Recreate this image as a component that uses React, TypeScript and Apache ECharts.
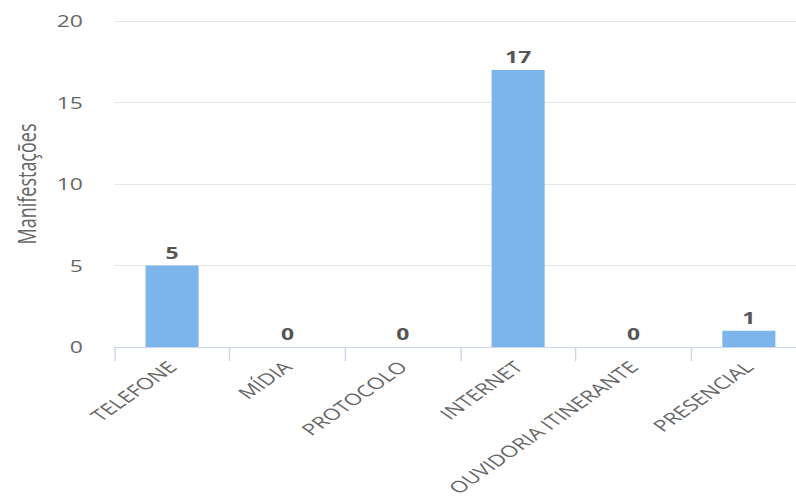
import React, { useEffect, useRef } from "react";
import * as echarts from "echarts";

const categories = ["TELEFONE", "MÍDIA", "PROTOCOLO", "INTERNET", "OUVIDORIA ITINERANTE", "PRESENCIAL"];
const values = [5, 0, 0, 17, 0, 1];
const yTicks = { min: 0, max: 20, interval: 5 };
const yAxisName = "Manifestações";

const SCALE_X = 1.43;
const WIDTH = 796;
const HEIGHT = 497;
const INNER_W = 580;

export default function App() {
  const ref = useRef<HTMLDivElement>(null);
  useEffect(() => {
    if (!ref.current) return;
    const chart = echarts.init(ref.current, undefined, { renderer: "svg" });
    const font = "'Open Sans', sans-serif";
    chart.setOption({
      animation: false,
      backgroundColor: "#ffffff",
      grid: {
        left: 80,
        right: INNER_W - 564,
        top: 21,
        bottom: 150,
        containLabel: false,
        outerBoundsMode: "none",
      },
      xAxis: {
        type: "category",
        data: categories,
        axisLine: { show: true, lineStyle: { color: "#ccd6eb", width: 1 } },
        axisTick: { show: true, length: 14, lineStyle: { color: "#ccd6eb" } },
        axisLabel: {
          rotate: 45,
          interval: 0,
          margin: 17,
          fontSize: 16,
          color: "#666666",
          fontFamily: font,
        },
      },
      yAxis: {
        type: "value",
        min: yTicks.min,
        max: yTicks.max,
        interval: yTicks.interval,
        name: yAxisName,
        nameLocation: "middle",
        nameGap: 53,
        nameTextStyle: { fontSize: 18, color: "#666666", fontFamily: font },
        axisLine: { show: false },
        axisTick: { show: false },
        axisLabel: { fontSize: 16, color: "#666666", margin: 22, fontFamily: font },
        splitLine: { lineStyle: { color: "#e6e6e6", width: 1 } },
      },
      series: [
        {
          type: "bar",
          data: values,
          barWidth: "46%",
          itemStyle: { color: "#7cb5ec" },
          label: {
            show: true,
            position: "top",
            distance: 5,
            fontSize: 16,
            fontWeight: "bold",
            color: "#555555",
            fontFamily: font,
          },
        },
      ],
    });
    return () => chart.dispose();
  }, []);

  return (
    <div
      style={{
        position: "fixed",
        left: 0,
        top: 0,
        width: WIDTH,
        height: HEIGHT,
        overflow: "hidden",
        background: "#ffffff",
      }}
    >
      <div
        ref={ref}
        style={{
          width: INNER_W,
          height: HEIGHT,
          transform: `scaleX(${SCALE_X})`,
          transformOrigin: "0 0",
        }}
      />
    </div>
  );
}
